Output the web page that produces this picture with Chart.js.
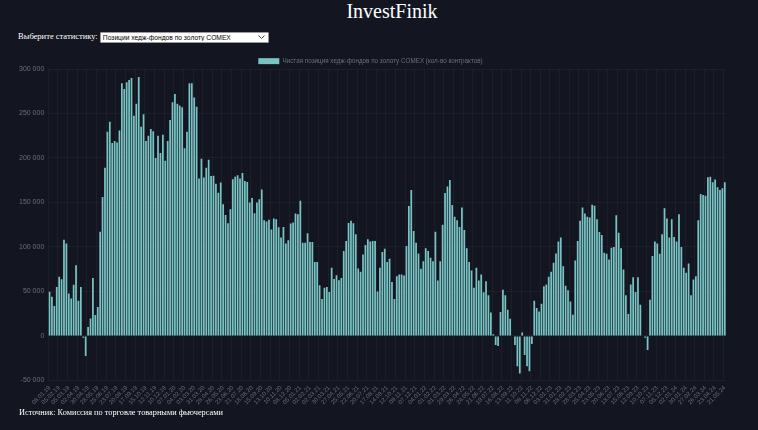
<!DOCTYPE html>
<html><head><meta charset="utf-8">
<script src="https://cdn.jsdelivr.net/npm/chart.js@4"></script>
<style>
html,body{margin:0;padding:0;background:#131621;width:758px;height:430px;overflow:hidden;}
h1{position:absolute;top:0;left:13px;width:758px;text-align:center;margin:0;font:normal 20px "Liberation Serif",serif;color:#fff;line-height:22px;}
#ctl{position:absolute;left:18px;top:31px;font:8.5px "Liberation Serif",serif;color:#fff;white-space:nowrap;}
select{-webkit-appearance:none;appearance:none;font:6.7px "Liberation Sans",Arial,sans-serif;width:169px;height:11px;padding:0 0 0 2px;margin:0;vertical-align:middle;color:#000;border:1px solid #999;border-radius:1px;
background:#fff url("data:image/svg+xml;utf8,<svg xmlns='http://www.w3.org/2000/svg' width='7' height='4'><path d='M0.5 0.5 L3.5 3.5 L6.5 0.5' fill='none' stroke='%23444' stroke-width='1'/></svg>") no-repeat right 3px center;}
#wrap{position:absolute;left:0;top:50px;width:758px;height:360px;}
#src{position:absolute;left:19px;top:408px;font:8.3px "Liberation Serif",serif;color:#fff;white-space:nowrap;}
</style></head>
<body>
<h1>InvestFinik</h1>
<div id="ctl">Выберите статистику: <select><option>Позиции хедж-фондов по золоту COMEX</option></select></div>
<div id="wrap"><canvas id="c"></canvas></div>
<div id="src">Источник: Комиссия по торговле товарными фьючерсами</div>
<script>
const seriesLabel = "Чистая позиция хедж-фондов по золоту COMEX (кол-во контрактов)";
const startDate = "2019-01-08";
const netPositions = [
49500,43900,33750,55000,66400,63750,108000,104000,47600,42000,57400,79500,39400,55000,-2000,-22500,10000,19500,65000,23600,
32600,117000,156000,189000,229500,240700,216700,219000,217500,231000,284000,277500,285000,287600,290000,247500,261000,291000,235000,249000,
219000,225000,232500,230000,200000,225000,205500,226000,197000,219000,242600,262500,272000,261000,259000,257000,211000,229500,284000,284000,
268000,257600,177000,199000,178000,189000,198000,179600,180000,171000,161000,172500,148000,136000,126700,142500,176000,179000,180700,177000,
183000,174000,173000,150000,155000,138000,150000,153700,164600,130000,128600,130500,119600,132000,131000,122000,
110500,122500,104000,107400,126300,127400,137600,136800,152000,104800,
104800,115400,105600,105600,83000,83000,57000,41500,54000,55000,
49400,76500,64000,68200,62600,65200,95400,106700,127000,129300,
126700,114200,75800,72000,91600,102200,108600,106000,106700,106700,
50000,76500,94250,98000,83000,86700,60700,41500,67000,69000,
69000,67900,101000,146000,164000,118000,104800,92700,75400,
84000,98400,95400,87800,84000,117000,62200,84000,124800,
160600,168000,175300,147000,133800,130000,122500,144400,119100,
98400,83000,73500,54000,76500,62200,69000,49000,61500,45600,
26400,2000,-10200,-11300,26800,
52000,45600,29400,19200,400,-10200,-34000,-42200,3800,-21500,-34000,-39600,-9000,39600,31300,27500,36200,55800,57700,
66400,72000,82200,92700,106000,110500,78400,56500,51300,38800,23800,84800,106700,129300,144400,137600,133800,133000,147400,146300,
131200,116900,113500,93500,92400,86000,99000,100000,135700,116000,98400,74600,45600,24500,57700,66000,49400,66000,35000,-700,
-2000,-15800,40700,89700,106000,104000,92400,114200,143600,132000,110500,131200,111200,106000,136800,100000,76500,70900,81400,45600,
63300,67000,130000,159500,158300,157600,178300,179000,172600,175700,167000,164000,166000,172600
];
const weekLabels = [];
{
  const d0 = new Date(startDate + "T12:00:00Z");
  for (let i = 0; i < netPositions.length; i++) {
    const d = new Date(d0.getTime() + i * 7 * 86400000);
    const dd = String(d.getUTCDate()).padStart(2, "0");
    const mm = String(d.getUTCMonth() + 1).padStart(2, "0");
    const yy = String(d.getUTCFullYear()).slice(2);
    weekLabels.push(dd + "." + mm + "." + yy);
  }
}
const tickColor = "#6b6e77";
new Chart(document.getElementById("c"), {
  type: "bar",
  data: {
    labels: weekLabels,
    datasets: [{
      label: seriesLabel,
      data: netPositions,
      backgroundColor: "#78c4c4",
      borderColor: "#78c4c4",
      borderWidth: 0
    }]
  },
  options: {
    responsive: true,
    maintainAspectRatio: false,
    animation: false,
    layout: { padding: { left: 15, right: 32, top: 5, bottom: 0 } },
    plugins: {
      legend: {
        maxHeight: 14,
        labels: { color: tickColor, font: { size: 6.3, family: "Liberation Sans, Arial, sans-serif" }, boxWidth: 21, boxHeight: 6, padding: 3 }
      },
      tooltip: { enabled: false }
    },
    scales: {
      x: {
        grid: { color: (ctx) => (ctx.index % 4 === 0 ? "rgba(255,255,255,0.04)" : "rgba(0,0,0,0)"), drawTicks: false },
        border: { display: false },
        ticks: {
          autoSkip: false, minRotation: 45, maxRotation: 45, color: tickColor, padding: 4,
          font: { size: 6, family: "Liberation Sans, Arial, sans-serif" },
          callback: function (v, i) { return i % 4 === 0 ? this.getLabelForValue(v) : ""; }
        }
      },
      y: {
        grid: { color: "rgba(255,255,255,0.04)", drawTicks: false },
        border: { display: false },
        ticks: {
          color: tickColor, padding: 4, stepSize: 50000,
          font: { size: 7, family: "Liberation Sans, Arial, sans-serif" },
          callback: (v) => v.toLocaleString("ru-RU")
        }
      }
    }
  }
});
</script>
</body></html>
